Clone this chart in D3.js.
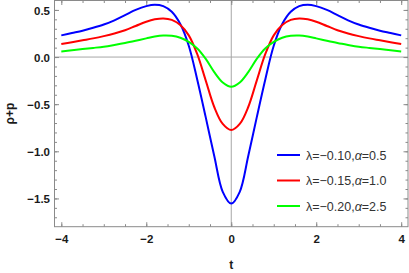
<!DOCTYPE html>
<html>
<head>
<meta charset="utf-8">
<script src="https://cdn.jsdelivr.net/npm/d3@7"></script>
<style>
    body { margin: 0; background: #ffffff; }
    svg { display: block; font-family: "Liberation Sans", Arial, sans-serif; }
</style>
</head>
<body>
<div id="chart"></div>
<script>
// values
const tValues = [-4, -3.75, -3.5, -3.25, -3, -2.75, -2.5, -2.25, -2, -1.8, -1.6, -1.4, -1.2, -1, -0.8, -0.6, -0.4, -0.2, 0,
    0.2, 0.4, 0.6, 0.8, 1, 1.2, 1.4, 1.6, 1.8, 2, 2.25, 2.5, 2.75, 3, 3.25, 3.5, 3.75, 4];
const blueValues = [0.23, 0.255, 0.28, 0.31, 0.345, 0.39, 0.445, 0.50, 0.54, 0.555, 0.54, 0.48, 0.35, 0.12, -0.24, -0.64, -1.05, -1.43, -1.555,
    -1.43, -1.05, -0.64, -0.24, 0.12, 0.35, 0.48, 0.54, 0.555, 0.54, 0.50, 0.445, 0.39, 0.345, 0.31, 0.28, 0.255, 0.23];
const redValues = [0.138, 0.158, 0.178, 0.198, 0.222, 0.25, 0.285, 0.33, 0.375, 0.40, 0.41, 0.395, 0.34, 0.23, 0.03, -0.25, -0.53, -0.71, -0.775,
    -0.71, -0.53, -0.25, 0.03, 0.23, 0.34, 0.395, 0.41, 0.40, 0.375, 0.33, 0.285, 0.25, 0.222, 0.198, 0.178, 0.158, 0.138];
const greenValues = [0.06, 0.072, 0.085, 0.097, 0.11, 0.128, 0.148, 0.172, 0.198, 0.218, 0.229, 0.226, 0.205, 0.16, 0.09, -0.02, -0.16, -0.27, -0.316,
    -0.27, -0.16, -0.02, 0.09, 0.16, 0.205, 0.226, 0.229, 0.218, 0.198, 0.172, 0.148, 0.128, 0.11, 0.097, 0.085, 0.072, 0.06];

const lambdaLabels = ["−0.10", "−0.15", "−0.20"];
const alphaLabels = ["0.5", "1.0", "2.5"];
const seriesColors = ["#0000ff", "#ff0000", "#00ff00"];

const xMajorTicks = [-4, -2, 0, 2, 4];
const xMinorTicks = [-4, -3.5, -3, -2.5, -2, -1.5, -1, -0.5, 0, 0.5, 1, 1.5, 2, 2.5, 3, 3.5, 4];
const yMajorTicks = [-1.5, -1.0, -0.5, 0.0, 0.5];
const yMinorTicks = [-1.7, -1.6, -1.5, -1.4, -1.3, -1.2, -1.1, -1.0, -0.9, -0.8, -0.7, -0.6, -0.5, -0.4, -0.3, -0.2, -0.1, 0.0, 0.1, 0.2, 0.3, 0.4, 0.5];

class PlotView {
    constructor(container) {
        this.container = container;
        this.width = 409;
        this.height = 273;
        this.frame = { left: 54.5, right: 408, top: 0.5, bottom: 226.7 };
    }

    render() {
        const f = this.frame;
        const svg = d3.select("#" + this.container)
            .append("svg")
            .attr("width", this.width)
            .attr("height", this.height);

        const x = d3.scaleLinear().domain([-4.16, 4.16]).range([f.left, f.right]);
        const y = d3.scaleLinear().domain([-1.80, 0.60]).range([f.bottom, f.top]);

        const plot = svg.append("g");

        // zero lines
        plot.append("line")
            .attr("x1", x(0)).attr("x2", x(0))
            .attr("y1", f.top).attr("y2", f.bottom)
            .style("stroke", "#a6a6a6").style("stroke-width", 1);
        plot.append("line")
            .attr("x1", f.left).attr("x2", f.right)
            .attr("y1", y(0)).attr("y2", y(0))
            .style("stroke", "#a6a6a6").style("stroke-width", 1);

        // curves
        const clip = svg.append("clipPath").attr("id", "plotClip")
            .append("rect")
            .attr("x", f.left).attr("y", f.top)
            .attr("width", f.right - f.left).attr("height", f.bottom - f.top);

        const line = d3.line()
            .x(d => x(d[0]))
            .y(d => y(d[1]))
            .curve(d3.curveCatmullRom.alpha(0.5));

        [blueValues, redValues, greenValues].forEach((vals, i) => {
            plot.append("path")
                .datum(tValues.map((t, j) => [t, vals[j]]))
                .attr("d", line)
                .attr("clip-path", "url(#plotClip)")
                .style("fill", "none")
                .style("stroke", seriesColors[i])
                .style("stroke-width", 2);
        });

        this.renderFrame(svg, x, y);
        this.renderLabels(svg, x, y);
        this.renderLegend(svg);
    }

    renderFrame(svg, x, y) {
        const f = this.frame;
        const tickColor = "#8a8a8a";
        const noDomain = g => g.select(".domain").remove();

        // minor ticks on all four sides
        svg.append("g").attr("transform", `translate(0,${f.bottom})`)
            .call(d3.axisBottom(x).tickValues(xMinorTicks).tickSize(-2.5).tickFormat(""))
            .call(noDomain);
        svg.append("g").attr("transform", `translate(0,${f.top})`)
            .call(d3.axisTop(x).tickValues(xMinorTicks).tickSize(-2.5).tickFormat(""))
            .call(noDomain);
        svg.append("g").attr("transform", `translate(${f.left},0)`)
            .call(d3.axisLeft(y).tickValues(yMinorTicks).tickSize(-2.5).tickFormat(""))
            .call(noDomain);
        svg.append("g").attr("transform", `translate(${f.right},0)`)
            .call(d3.axisRight(y).tickValues(yMinorTicks).tickSize(-2.5).tickFormat(""))
            .call(noDomain);

        // major ticks
        svg.append("g").attr("class", "xaxis").attr("transform", `translate(0,${f.bottom})`)
            .call(d3.axisBottom(x).tickValues(xMajorTicks).tickSize(-4.5).tickPadding(8).tickFormat(d3.format("d")))
            .call(noDomain);
        svg.append("g").attr("transform", `translate(0,${f.top})`)
            .call(d3.axisTop(x).tickValues(xMajorTicks).tickSize(-4.5).tickFormat(""))
            .call(noDomain);
        svg.append("g").attr("class", "yaxis").attr("transform", `translate(${f.left},0)`)
            .call(d3.axisLeft(y).tickValues(yMajorTicks).tickSize(-4.5).tickPadding(4.5).tickFormat(d3.format(".1f")))
            .call(noDomain);
        svg.append("g").attr("transform", `translate(${f.right},0)`)
            .call(d3.axisRight(y).tickValues(yMajorTicks).tickSize(-4.5).tickFormat(""))
            .call(noDomain);

        svg.selectAll(".tick line").style("stroke", tickColor).style("stroke-width", 1);
        svg.selectAll(".xaxis text, .yaxis text")
            .style("font-size", "11.5px")
            .style("font-weight", "bold")
            .style("fill", "#1a1a1a")
            .style("font-family", "'Liberation Sans', Arial, sans-serif");
        svg.selectAll(".yaxis text").attr("dy", "0.36em");

        svg.append("rect")
            .attr("x", f.left).attr("y", f.top)
            .attr("width", f.right - f.left).attr("height", f.bottom - f.top)
            .style("fill", "none")
            .style("stroke", tickColor)
            .style("stroke-width", 1);
    }

    renderLabels(svg, x, y) {
        svg.append("text")
            .attr("x", x(0))
            .attr("y", 269)
            .attr("text-anchor", "middle")
            .style("font-size", "12px")
            .style("font-weight", "bold")
            .style("fill", "#1a1a1a")
            .text("t");

        svg.append("text")
            .attr("transform", `translate(14,${(this.frame.top + this.frame.bottom) / 2}) rotate(-90)`)
            .attr("text-anchor", "middle")
            .style("font-size", "12px")
            .style("font-weight", "bold")
            .style("fill", "#1a1a1a")
            .text("ρ+p");
    }

    renderLegend(svg) {
        const rowY = [155, 180.5, 206];
        const legend = svg.append("g");
        seriesColors.forEach((c, i) => {
            legend.append("line")
                .attr("x1", 277).attr("x2", 300)
                .attr("y1", rowY[i]).attr("y2", rowY[i])
                .style("stroke", c).style("stroke-width", 2);
            const txt = legend.append("text")
                .attr("x", 306)
                .attr("y", rowY[i] + 4.5)
                .style("font-size", "12.5px")
                .style("fill", "#333333");
            txt.append("tspan").text("λ=" + lambdaLabels[i] + ",");
            txt.append("tspan").style("font-style", "italic").text("α");
            txt.append("tspan").text("=" + alphaLabels[i]);
        });
    }
}

const view = new PlotView("chart");
view.render();
</script>
</body>
</html>
